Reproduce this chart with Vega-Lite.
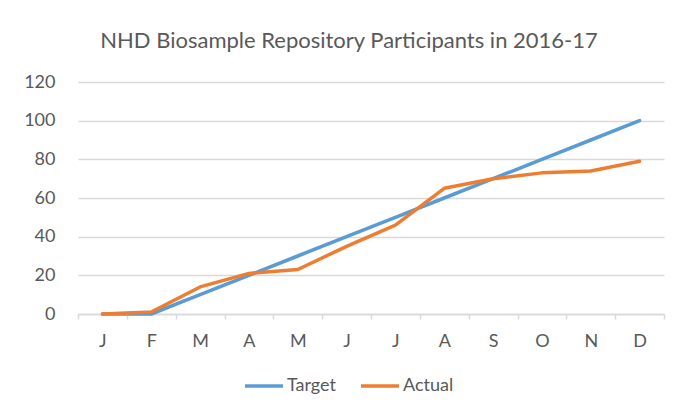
{
  "$schema": "https://vega.github.io/schema/vega-lite/v6.json",
  "width": 586,
  "height": 232,
  "autosize": {"type": "none"},
  "padding": {"left": 78, "top": 82, "right": 25, "bottom": 100},
  "background": "white",
  "title": {
    "text": "NHD Biosample Repository Participants in 2016-17",
    "font": "Lato",
    "fontSize": 22,
    "fontWeight": "normal",
    "color": "#595959",
    "anchor": "middle",
    "offset": 20,
    "dx": -22
  },
  "config": {
    "view": {"stroke": null},
    "axis": {"labelFont": "Lato", "labelFontSize": 18, "labelColor": "#595959", "titleFont": "Lato"},
    "legend": {"labelFont": "Lato", "labelFontSize": 18, "labelColor": "#595959"}
  },
  "data": {
    "values": [
      {"month": "Jan", "series": "Target", "value": 0},
      {"month": "Feb", "series": "Target", "value": 0},
      {"month": "Mar", "series": "Target", "value": 10},
      {"month": "Apr", "series": "Target", "value": 20},
      {"month": "May", "series": "Target", "value": 30},
      {"month": "Jun", "series": "Target", "value": 40},
      {"month": "Jul", "series": "Target", "value": 50},
      {"month": "Aug", "series": "Target", "value": 60},
      {"month": "Sep", "series": "Target", "value": 70},
      {"month": "Oct", "series": "Target", "value": 80},
      {"month": "Nov", "series": "Target", "value": 90},
      {"month": "Dec", "series": "Target", "value": 100},
      {"month": "Jan", "series": "Actual", "value": 0},
      {"month": "Feb", "series": "Actual", "value": 1},
      {"month": "Mar", "series": "Actual", "value": 14},
      {"month": "Apr", "series": "Actual", "value": 21},
      {"month": "May", "series": "Actual", "value": 23},
      {"month": "Jun", "series": "Actual", "value": 35},
      {"month": "Jul", "series": "Actual", "value": 46},
      {"month": "Aug", "series": "Actual", "value": 65},
      {"month": "Sep", "series": "Actual", "value": 70},
      {"month": "Oct", "series": "Actual", "value": 73},
      {"month": "Nov", "series": "Actual", "value": 74},
      {"month": "Dec", "series": "Actual", "value": 79}
    ]
  },
  "mark": {"type": "line", "strokeWidth": 3.5, "strokeCap": "round", "strokeJoin": "round"},
  "encoding": {
    "x": {
      "field": "month",
      "type": "ordinal",
      "sort": null,
      "scale": {"type": "band", "paddingInner": 0, "paddingOuter": 0},
      "axis": {
        "title": null,
        "labelAngle": 0,
        "labelExpr": "substring(datum.label, 0, 1)",
        "tickBand": "extent",
        "domainColor": "#d9d9d9",
        "domainWidth": 1.5,
        "tickColor": "#d9d9d9",
        "tickWidth": 1.5,
        "tickSize": 5,
        "labelPadding": 13,
        "grid": false
      }
    },
    "y": {
      "field": "value",
      "type": "quantitative",
      "scale": {"domain": [0, 120]},
      "axis": {
        "title": null,
        "values": [0, 20, 40, 60, 80, 100, 120],
        "domain": false,
        "ticks": false,
        "gridColor": "#d9d9d9",
        "gridWidth": 1.5,
        "labelPadding": 23
      }
    },
    "color": {
      "field": "series",
      "type": "nominal",
      "sort": ["Target", "Actual"],
      "scale": {"domain": ["Target", "Actual"], "range": ["#5B9BD5", "#ED7D31"]},
      "legend": {
        "title": null,
        "orient": "none",
        "legendX": 165,
        "legendY": 283,
        "direction": "horizontal",
        "symbolType": "stroke",
        "symbolSize": 1444,
        "symbolStrokeWidth": 3.5,
        "columnPadding": 18,
        "labelOffset": 2
      }
    }
  }
}
